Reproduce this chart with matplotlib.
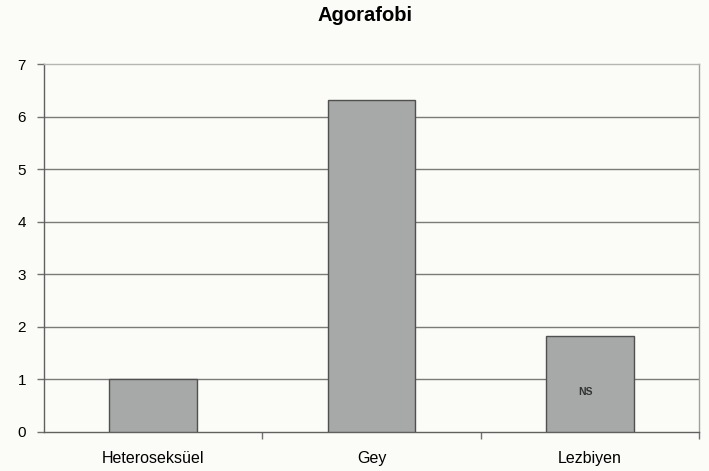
import matplotlib.pyplot as plt

categories = ["Heteroseksüel", "Gey", "Lezbiyen"]
values = [1.0, 6.32, 1.82]
annotations = ["", "", "NS"]
yticks = [0, 1, 2, 3, 4, 5, 6, 7]

plt.rcParams['font.family'] = ['Liberation Sans', 'DejaVu Sans']

bg = '#fbfbf7'
fig = plt.figure(figsize=(7.09, 4.71), dpi=100, facecolor=bg)
ax = fig.add_axes([0.062, 0.083, 0.924, 0.781], facecolor=bg)

x = list(range(len(categories)))
ax.bar(x, values, width=0.4, color='#a7a9a9', edgecolor='#505050', linewidth=1.0, zorder=3)

for xi, v, a in zip(x, values, annotations):
    if a:
        ax.text(xi - 0.02, v * 0.42, a, ha='center', va='center', fontsize=7.5,
                fontweight='bold', color='#333333', zorder=4)

ax.set_xlim(-0.5, len(categories) - 0.5)
ax.set_ylim(0, 7)
ax.set_yticks(yticks)
ax.set_yticklabels([str(t) for t in yticks], fontsize=11)

# category labels centred under bars, tick marks at the category boundaries
ax.set_xticks([i + 0.5 for i in range(len(categories))])
ax.set_xticklabels([])
ax.set_xticks(x, minor=True)
ax.set_xticklabels(categories, minor=True, fontsize=11.5)
ax.tick_params(axis='x', which='minor', length=0, pad=14)
ax.tick_params(axis='x', which='major', length=5, color='#707070', width=1)
ax.tick_params(axis='y', length=5, color='#707070', width=1, pad=8)

for yv in yticks[1:-1]:
    ax.axhline(yv, color='#7a7a7a', linewidth=1.0, zorder=1)

ax.spines['left'].set_color('#606060')
ax.spines['bottom'].set_color('#606060')
ax.spines['top'].set_color('#b5b5b5')
ax.spines['right'].set_color('#a0a0a0')
for s in ax.spines.values():
    s.set_linewidth(1.0)

fig.suptitle("Agorafobi", x=0.515, y=0.988, fontsize=14.5, fontweight='bold')

fig.savefig("out.png", dpi=100, facecolor=bg)
